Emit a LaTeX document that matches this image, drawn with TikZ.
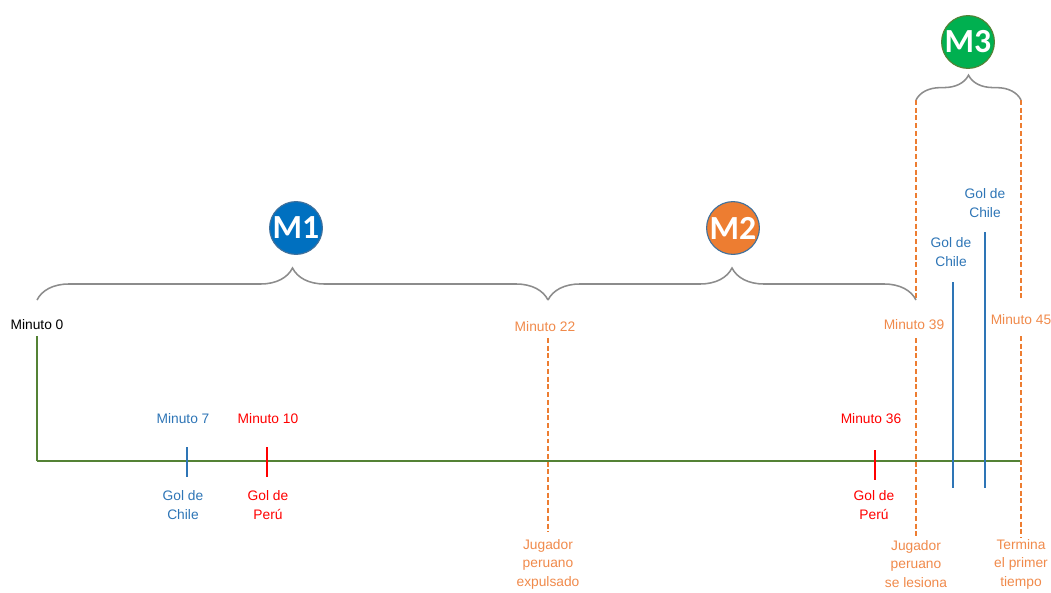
\documentclass[tikz,border=0pt]{standalone}
\usepackage{fontspec}
\setmainfont{Liberation Sans}
\newfontfamily\hitofont{Carlito}
\usetikzlibrary{decorations.pathreplacing,positioning}
\definecolor{LineaVerde}{HTML}{548235}
\definecolor{ChileAzul}{HTML}{2E75B6}
\definecolor{PeruRojo}{HTML}{FF0000}
\definecolor{HitoNaranja}{HTML}{ED7D31}
\definecolor{TextoNaranja}{HTML}{F08A4B}
\definecolor{LlaveGris}{HTML}{8C8C8C}
\definecolor{M1Azul}{HTML}{0070C0}
\definecolor{M3Verde}{HTML}{00B050}
\definecolor{BordeHito}{HTML}{41719C}

\begin{document}
\begin{tikzpicture}[
  x=0.025cm, y=-0.025cm,
  rotulo/.style={font=\fontsize{9.8}{13.2}\selectfont, align=center, inner sep=0pt},
  hito/.style={circle, minimum size=1.32cm, inner sep=0pt, draw=BordeHito, line width=0.8pt, text=white, font=\hitofont\bfseries\fontsize{24}{24}\selectfont},
  gol/.style={line width=1.5pt},
  corte/.style={draw=HitoNaranja, line width=1pt, dash pattern=on 3.5pt off 2pt},
  llave/.style={draw=LlaveGris, line width=1.1pt, decorate, decoration={brace, amplitude=#1}},
  llave/.default=0.8cm
]
  \useasboundingbox (0,0) rectangle (1051,592);

  % linea de tiempo
  \coordinate (t0) at (37,461);
  \coordinate (t45) at (1021,461);
  \draw[LineaVerde, line width=1.9pt] (t0) -- (t45);

  \node[rotulo] (min0) at (37,325) {Minuto 0};
  \draw[LineaVerde, line width=1.6pt] (t0) -- (37,336);

  % goles
  \node[rotulo, ChileAzul] (min7) at (183,419) {Minuto 7};
  \node[rotulo, ChileAzul] (gol7) at (183,505) {Gol de\\Chile};
  \draw[gol, ChileAzul] (187,447) -- (187,477);

  \node[rotulo, PeruRojo] (min10) at (268,419) {Minuto 10};
  \node[rotulo, PeruRojo] (gol10) at (268,505) {Gol de\\Perú};
  \draw[gol, PeruRojo] (267,447) -- (267,477);

  \node[rotulo, PeruRojo] (min36) at (871,419) {Minuto 36};
  \node[rotulo, PeruRojo] (gol36) at (874,505) {Gol de\\Perú};
  \draw[gol, PeruRojo] (875,450) -- (875,480);

  \node[rotulo, ChileAzul] (gol41) at (951,252) {Gol de\\Chile};
  \draw[gol, ChileAzul] (953,282) -- (953,488);
  \node[rotulo, ChileAzul] (gol43) at (985,203) {Gol de\\Chile};
  \draw[gol, ChileAzul] (985,232) -- (985,488);

  % cortes de momentos
  \node[rotulo, TextoNaranja] (min22) at (545,327) {Minuto 22};
  \node[rotulo, TextoNaranja] (exp22) at (548,564) {Jugador\\peruano\\expulsado};
  \draw[corte] (548,338) -- (548,532);

  \node[rotulo, TextoNaranja] (min39) at (914,325) {Minuto 39};
  \node[rotulo, TextoNaranja] (les39) at (916,564) {Jugador\\peruano\\se lesiona};
  \draw[corte] (916,100) -- (916,301);
  \draw[corte] (916,338) -- (916,538);

  \node[rotulo, TextoNaranja] (min45) at (1021,320) {Minuto 45};
  \node[rotulo, TextoNaranja] (fin45) at (1021,564) {Termina\\el primer\\tiempo};
  \draw[corte] (1021,100) -- (1021,300);
  \draw[corte] (1021,336) -- (1021,538);

  % llaves y momentos
  \draw[llave] (37,300) -- (548,300);
  \draw[llave] (548,300) -- (916,300);
  \draw[llave=0.62cm] (916,100) -- (1021,100);

  \node[hito, fill=M1Azul] (m1) at (296,228) {M1};
  \node[hito, fill=HitoNaranja] (m2) at (733,228) {M2};
  \node[hito, fill=M3Verde, draw=LineaVerde] (m3) at (968,42) {M3};
\end{tikzpicture}
\end{document}
